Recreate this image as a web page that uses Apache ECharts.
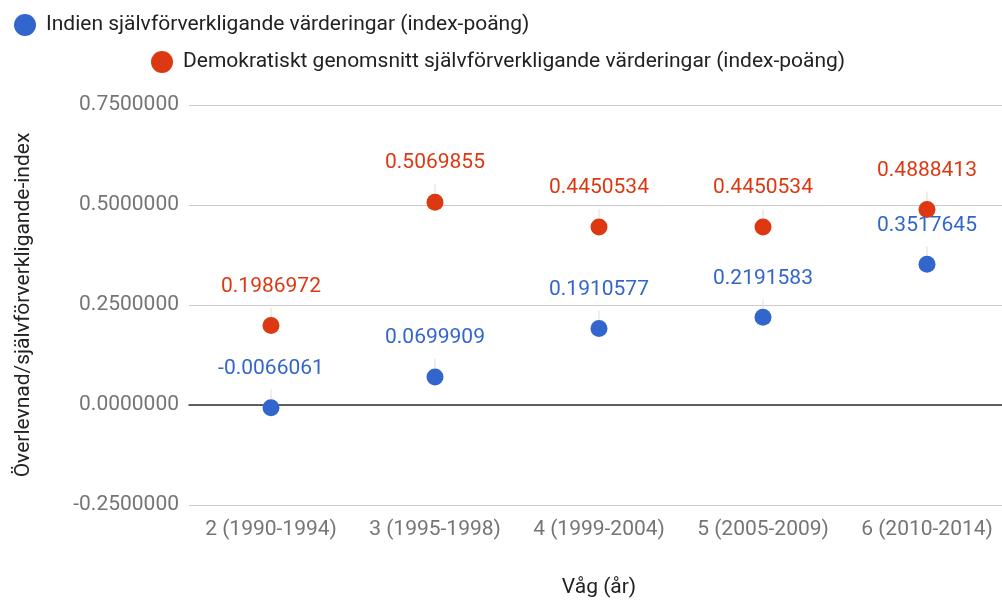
<!DOCTYPE html>
<html>
<head>
<meta charset="utf-8">
<script src="https://cdn.jsdelivr.net/npm/echarts@6/dist/echarts.min.js"></script>
<style>
  html, body { margin: 0; padding: 0; background: #fff; }
  #main { width: 1002px; height: 600px; }
</style>
</head>
<body>
<div id="main"></div>
<script>
var waves = ['2 (1990-1994)', '3 (1995-1998)', '4 (1999-2004)', '5 (2005-2009)', '6 (2010-2014)'];
var indien = [-0.0066061, 0.0699909, 0.1910577, 0.2191583, 0.3517645];
var demokrati = [0.1986972, 0.5069855, 0.4450534, 0.4450534, 0.4888413];
var nameIndien = 'Indien självförverkligande värderingar (index-poäng)';
var nameDemo = 'Demokratiskt genomsnitt självförverkligande värderingar (index-poäng)';

var myChart = echarts.init(document.getElementById('main'));

function pointSeries(name, values, color) {
    return {
        name: name,
        type: 'scatter',
        symbolSize: 17,
        itemStyle: { color: color, opacity: 1 },
        data: values,
        label: {
            show: true,
            position: 'top',
            distance: 20,
            color: color,
            fontSize: 21,
            fontFamily: 'Roboto',
            formatter: function (p) { return p.value.toFixed(7); }
        },
        labelLine: {
            show: true,
            lineStyle: { color: '#dddddd', width: 1 }
        }
    };
}

var legendText = { fontSize: 21, color: '#222', padding: [0, 0, 0, 5] };

option = {
    textStyle: { fontFamily: 'Roboto' },
    animation: false,
    legend: [{
        left: 9, top: 9,
        itemWidth: 22, itemHeight: 22,
        icon: 'circle',
        textStyle: legendText,
        data: [nameIndien]
    }, {
        left: 146, top: 46,
        itemWidth: 22, itemHeight: 22,
        icon: 'circle',
        textStyle: legendText,
        data: [nameDemo]
    }],
    grid: { left: 189, top: 105, right: -7, height: 400, outerBoundsMode: 'none', containLabel: false },
    xAxis: {
        type: 'category',
        data: waves,
        name: 'Våg (år)',
        nameLocation: 'middle',
        nameGap: 72,
        nameTextStyle: { fontSize: 21, color: '#222' },
        axisLine: { onZero: true, lineStyle: { color: '#333', width: 1.5 } },
        axisTick: { show: false },
        axisLabel: { fontSize: 21, color: '#757575', margin: 14, interval: 0 },
        splitLine: { show: false }
    },
    yAxis: {
        type: 'value',
        min: -0.25, max: 0.75, interval: 0.25,
        name: 'Överlevnad/självförverkligande-index',
        nameLocation: 'middle',
        nameGap: 155,
        nameTextStyle: { fontSize: 21, color: '#222' },
        axisLine: { show: false },
        axisTick: { show: false },
        axisLabel: {
            fontSize: 21, color: '#757575', margin: 10,
            formatter: function (v) { return v.toFixed(7); }
        },
        splitLine: { lineStyle: { color: '#cccccc' } }
    },
    series: [
        pointSeries(nameIndien, indien, '#3366cc'),
        pointSeries(nameDemo, demokrati, '#dc3912')
    ]
};
myChart.setOption(option);
</script>
</body>
</html>
